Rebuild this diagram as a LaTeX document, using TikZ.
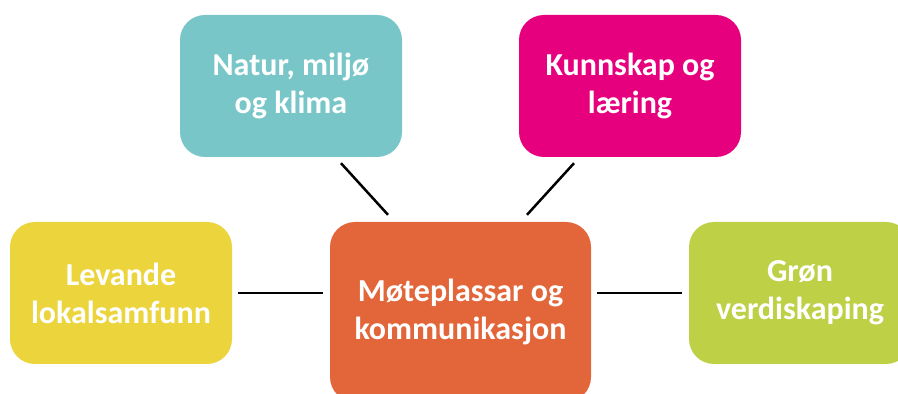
\documentclass[tikz,border=0pt]{standalone}
\usepackage{fontspec}
\setmainfont{Carlito}

\definecolor{natur}{RGB}{120,198,200}
\definecolor{kunn}{RGB}{230,0,126}
\definecolor{levande}{RGB}{236,212,60}
\definecolor{mote}{RGB}{226,102,58}
\definecolor{gron}{RGB}{190,209,70}

\begin{document}
\begin{tikzpicture}[x=1pt,y=1pt,
    box/.style={rounded corners=25pt,minimum width=222pt,minimum height=142pt,
      inner sep=0pt,align=center,text=white,
      font=\fontsize{32}{38}\selectfont\bfseries},
    link/.style={line width=2.5pt,black}]
  \useasboundingbox (0,0) rectangle (898,394);
  \clip (0,0) rectangle (898,394);

  \node[box,fill=natur] (natur) at (291,308) {Natur, miljø\\og klima};
  \node[box,fill=kunn] (kunn) at (630,308) {Kunnskap og\\læring};
  \node[box,fill=levande] (levande) at (121,101) {Levande\\lokalsamfunn};
  \node[box,fill=mote,minimum width=261pt,minimum height=180pt]
    (mote) at (460.5,82) {Møteplassar og\\kommunikasjon};
  \node[box,fill=gron] (gron) at (800,101) {Grøn\\verdiskaping};

  % spokes out from the middle box
  \draw[link] ([xshift=50pt,yshift=-6pt]natur.south)
    -- ([xshift=-72.5pt,yshift=7pt]mote.north);
  \draw[link] ([xshift=-56pt,yshift=-6pt]kunn.south)
    -- ([xshift=66.5pt,yshift=7pt]mote.north);
  \draw[link] ([xshift=6pt]levande.east)
    -- ([xshift=-7pt]levande.east -| mote.west);
  \draw[link] ([xshift=6pt]gron.west -| mote.east)
    -- ([xshift=-7pt]gron.west);
\end{tikzpicture}
\end{document}
